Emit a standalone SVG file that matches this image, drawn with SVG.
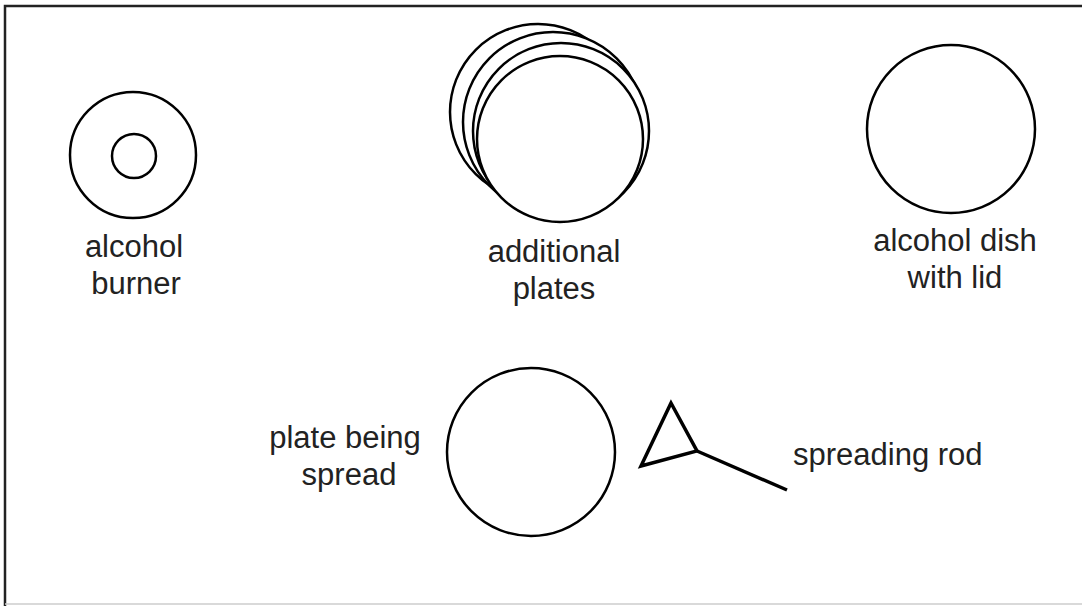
<svg xmlns="http://www.w3.org/2000/svg" width="1082" height="606" viewBox="0 0 1082 606">
<style>
.s{fill:#fff;stroke:#000;stroke-width:2.5}
.t{font-family:"Liberation Sans",Arial,sans-serif;font-size:31px;fill:#222;text-anchor:middle}
</style>
<rect width="1082" height="606" fill="#fff"/>
<g id="frame">
<path d="M5,606 V6 H1082" fill="none" stroke="#222" stroke-width="2.5"/>
<line x1="5" y1="604" x2="1082" y2="604" stroke="#ccc" stroke-width="1.5"/>
</g>
<g id="burner">
<circle class="s" cx="133" cy="155" r="63"/>
<circle class="s" cx="134" cy="156" r="22"/>
<text class="t" x="134" y="257">alcohol</text>
<text class="t" x="136" y="294">burner</text>
</g>
<g id="plates">
<circle class="s" cx="538" cy="112" r="88"/>
<circle class="s" cx="553" cy="122" r="90"/>
<circle class="s" cx="561" cy="131" r="88"/>
<circle class="s" cx="560" cy="139" r="83"/>
<text class="t" x="554" y="262">additional</text>
<text class="t" x="554" y="299">plates</text>
</g>
<g id="dish">
<circle class="s" cx="951" cy="129" r="84"/>
<text class="t" x="955" y="251">alcohol dish</text>
<text class="t" x="955" y="288">with lid</text>
</g>
<g id="plate">
<circle class="s" cx="531" cy="452" r="84"/>
<text class="t" x="345" y="448">plate being</text>
<text class="t" x="349" y="485">spread</text>
</g>
<g id="rod">
<polygon points="671,403 641,466 697,451" fill="none" stroke="#000" stroke-width="3.5" stroke-linejoin="miter"/>
<line x1="697" y1="451" x2="787" y2="490" stroke="#000" stroke-width="3.5"/>
<text class="t" x="793" y="465" style="text-anchor:start">spreading rod</text>
</g>
<g id="connectors"></g>
</svg>
